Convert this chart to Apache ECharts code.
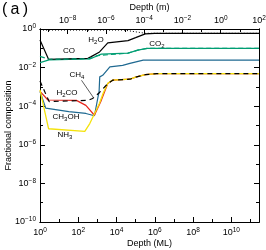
<!DOCTYPE html>
<html><head><meta charset="utf-8">
<script src="https://cdn.jsdelivr.net/npm/echarts@6/dist/echarts.min.js"></script>
<style>html,body{margin:0;padding:0;background:#fff}#c{width:266px;height:250px}</style>
</head><body><div id="c"></div>
<script>
// ---- axes ----
const depthMin = 1;          // ML
const depthMax = 2.82e11;    // ML
const mPerML = 3.548e-10;    // metres per monolayer (top axis)
const mlMajorExp = [0, 2, 4, 6, 8, 10];
const mlMinorExp = [1, 3, 5, 7, 9, 11];
const mMajorExp = [-8, -6, -4, -2, 0, 2];
const mMinorExp = [-9, -7, -5, -3, -1, 1];
const yMajorExp = [0, -2, -4, -6, -8, -10];
const yMinorExp = [-1, -3, -5, -7, -9];

// ---- series: [depth (ML), fractional composition] ----
const H2O   = [[1,0.27],[2.8,0.027],[320,0.03],[450,0.036],[1300,0.065],[3500,0.19],[4e4,0.25],[1e5,0.355],[3.2e5,0.56],[1e6,0.6],[2.82e11,0.6]];
const CO    = [[1,0.038],[3,0.027],[400,0.029],[1000,0.042],[4e4,0.056],[1.3e5,0.08],[4e5,0.1],[2.82e11,0.1]];
const CO2   = [[1,0.018],[3,0.025],[400,0.028],[1600,0.05],[4e4,0.056],[1.3e5,0.08],[4e5,0.1],[2.82e11,0.1]];
const CH4   = [[1,2e-3],[3,1.74e-4],[320,2e-4],[560,2.5e-4],[1260,5e-4],[3500,1.48e-3],[6300,2.24e-3],[5e4,2.5e-3],[1e5,3.2e-3],[3.2e5,4.3e-3],[1.26e6,4.9e-3],[2.82e11,4.9e-3]];
const H2CO  = [[1,5.8e-4],[2.6,2.1e-4],[80,2e-4],[250,1.1e-4],[700,3.4e-5],[1600,2e-4],[3500,1.5e-3],[6300,2.24e-3],[5e4,2.5e-3],[1e5,3.2e-3],[3.2e5,4.3e-3],[1.26e6,4.9e-3],[2.82e11,4.9e-3]];
const CH3OH = [[1,5.8e-4],[2,7.9e-5],[32,5.2e-5],[250,4.2e-5],[700,3.2e-5],[1230,5.8e-4],[1330,3.3e-3],[1900,4e-3],[4500,0.011],[2.1e4,0.013],[5e4,0.0166],[2.5e5,0.0245],[2.82e11,0.0245]];
const NH3   = [[1,7.1e-4],[2.8,6.8e-6],[220,5e-6],[400,1.26e-5],[1260,1.35e-4],[2000,4.7e-4],[3500,1.55e-3],[6300,2.24e-3],[5e4,2.5e-3],[1e5,3.2e-3],[3.2e5,4.3e-3],[1.26e6,4.9e-3],[2.82e11,4.9e-3]];
const total = [[1,0.88],[2.5e4,0.88],[3.2e5,0.6],[2.82e11,0.6]];
const ch4Pointer = [[148,2.2e-3],[600,2.95e-4]];

const F = 'Liberation Sans';
const pw = e => Math.pow(10, e);
const fmtExp = e => '{b|10}{p|' + (e < 0 ? '\u2212' + (-e) : e) + '}';
const rich = {
  b: {fontSize: 9, fontFamily: F, color: '#000'},
  p: {fontSize: 6.5, fontFamily: F, color: '#000', verticalAlign: 'top', padding: [0, 0, 5, 0]}
};
const lineAx = {show: true, lineStyle: {color: '#000', width: 1}};
const nameStyle = {fontSize: 9, fontFamily: F, color: '#000'};

function xAxis(pos, vals, len, labels, fmt, margin, extra) {
  return Object.assign({
    type: 'log', logBase: 10, min: depthMin, max: depthMax, position: pos, gridIndex: 0,
    axisLine: lineAx,
    axisTick: {show: true, inside: true, length: len, customValues: vals, lineStyle: {color: '#000', width: 1}},
    axisLabel: labels ? {show: true, customValues: vals, margin: margin, formatter: fmt, rich: rich} : {show: false},
    splitLine: {show: false}, minorTick: {show: false}
  }, extra || {});
}
function yAxis(pos, vals, len, labels, extra) {
  return Object.assign({
    type: 'log', logBase: 10, min: 1e-10, max: 1, position: pos, gridIndex: 0,
    axisLine: lineAx,
    axisTick: {show: true, inside: true, length: len, customValues: vals, lineStyle: {color: '#000', width: 1}},
    axisLabel: labels ? {show: true, customValues: vals, margin: 4, formatter: v => fmtExp(Math.round(Math.log10(v))), rich: rich} : {show: false},
    splitLine: {show: false}, minorTick: {show: false}
  }, extra || {});
}

const fmtML = v => fmtExp(Math.round(Math.log10(v)));
const fmtM = v => fmtExp(Math.round(Math.log10(v * mPerML)));

const xAxes = [
  xAxis('bottom', mlMajorExp.map(pw), 5, true, fmtML, 5,
    {name: 'Depth (ML)', nameLocation: 'middle', nameGap: 17, nameMoveOverlap: false, nameTextStyle: nameStyle}),
  xAxis('bottom', mlMinorExp.map(pw), 3, false),
  xAxis('top', mMajorExp.map(e => pw(e) / mPerML), 5, true, fmtM, 2,
    {name: 'Depth (m)', nameLocation: 'middle', nameGap: 17, nameMoveOverlap: false, nameTextStyle: nameStyle}),
  xAxis('top', mMinorExp.map(e => pw(e) / mPerML), 3, false)
];
const yAxes = [
  yAxis('left', yMajorExp.map(pw), 5, true,
    {name: 'Fractional composition', nameLocation: 'middle', nameGap: 27, nameMoveOverlap: false, nameTextStyle: nameStyle}),
  yAxis('left', yMinorExp.map(pw), 3, false),
  yAxis('right', yMajorExp.map(pw), 5, false),
  yAxis('right', yMinorExp.map(pw), 3, false)
];

function ln(name, data, color, type, width, z) {
  return {name, type: 'line', data, xAxisIndex: 0, yAxisIndex: 0, symbol: 'none', showSymbol: false,
    z: z, silent: true, animation: false,
    lineStyle: {color, width: width || 1.2, type: type || 'solid'}};
}
const series = [
  ln('CO2', CO2, '#009e73', 'solid', 1.2, 2),
  ln('H2O', H2O, '#000000', 'solid', 1.2, 3),
  ln('CO', CO, '#009e73', [5, 3], 1.2, 4),
  ln('CH3OH', CH3OH, '#1f6991', 'solid', 1.2, 5),
  ln('H2CO', H2CO, '#e8251c', 'solid', 1.2, 6),
  ln('NH3', NH3, '#f4e20b', 'solid', 1.3, 7),
  ln('CH4', CH4, '#000000', [5, 4], 1.2, 8),
  ln('total', total, '#000000', [1, 2], 1, 9)
];
series[6].markLine = {silent: true, symbol: 'none', animation: false, label: {show: false},
  lineStyle: {color: '#333', width: 0.8, type: 'solid'},
  data: [[{coord: ch4Pointer[0]}, {coord: ch4Pointer[1]}]]};

const sub = {s: {fontSize: 6, fontFamily: F, fill: '#000', verticalAlign: 'bottom', padding: [5, 0, 0, 0]}};
function lab(text, x, y) {
  return {type: 'text', x, y, silent: true, style: {text, fill: '#000', fontSize: 8, fontFamily: F,
    align: 'center', verticalAlign: 'middle', textAlign: 'center', textVerticalAlign: 'middle', rich: sub}};
}
const graphics = [
  {type: 'text', x: 2, y: 2, silent: true, style: {text: '(\u2009a\u2009)', fill: '#000', fontSize: 16, fontFamily: F}},
  lab('H{s|2}O', 96, 40),
  lab('CO', 69, 51),
  lab('CO{s|2}', 157, 44),
  lab('CH{s|4}', 77, 75),
  lab('H{s|2}CO', 67, 93),
  lab('CH{s|3}OH', 66, 117),
  lab('NH{s|3}', 65, 135)
];

const chart = echarts.init(document.getElementById('c'), null, {renderer: 'canvas'});
chart.setOption({
  animation: false,
  backgroundColor: '#fff',
  grid: {left: 40, right: 7, top: 29, bottom: 28, containLabel: false, outerBoundsMode: 'none'},
  xAxis: xAxes,
  yAxis: yAxes,
  series,
  graphic: graphics
});
</script></body></html>
